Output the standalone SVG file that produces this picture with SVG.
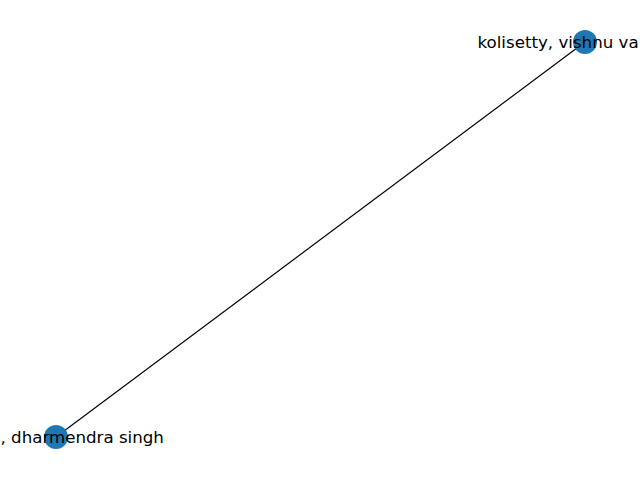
<svg xmlns="http://www.w3.org/2000/svg" width="640" height="480" viewBox="0 0 640 480">
<style>
.node circle{fill:#1f77b4;}
.node text{font-family:"DejaVu Sans",sans-serif;font-size:16.67px;fill:#000;}
.edge{stroke:#000;stroke-width:1.2;fill:none;}
</style>
<rect width="640" height="480" fill="#fff"/>
<g id="edges">
<line class="edge" x1="585" y1="42" x2="56" y2="437"/>
</g>
<g id="node-kolisetty" class="node">
<circle cx="585" cy="42" r="12"/>
<text x="477.5" y="47.8">kolisetty, vishnu va</text>
</g>
<g id="node-dharmendra" class="node">
<circle cx="56" cy="437" r="12"/>
<text x="0.5" y="442.8">, dharmendra singh</text>
</g>
</svg>
